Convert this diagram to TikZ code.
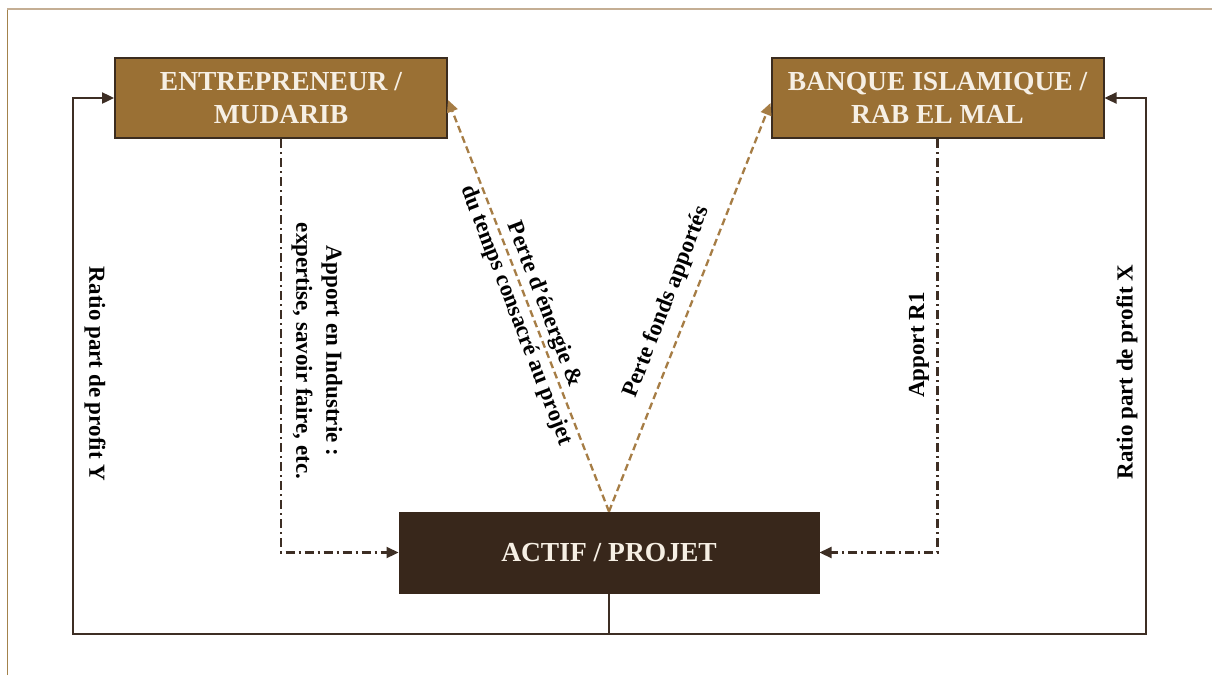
\documentclass[tikz,border=0pt]{standalone}
\usepackage{fontspec}
\setmainfont{Liberation Serif}
\usetikzlibrary{arrows.meta}
\definecolor{goldfill}{HTML}{9A7034}
\definecolor{boxline}{HTML}{3B2C1F}
\definecolor{darkfill}{HTML}{38271B}
\definecolor{linecol}{HTML}{3D2E24}
\definecolor{tanline}{HTML}{A67D45}
\definecolor{frametop}{HTML}{C4AE94}
\definecolor{frameleft}{HTML}{A3824C}
\definecolor{boxtext}{HTML}{F6EFE4}
\tikzset{
  goldbox/.style={draw=boxline, line width=2pt, fill=goldfill, text=boxtext,
    font=\fontsize{27.5}{33}\selectfont\bfseries, align=center,
    minimum width=332pt, minimum height=80pt, inner sep=0pt},
  darkbox/.style={draw=darkfill, line width=1pt, fill=darkfill, text=boxtext,
    font=\fontsize{27.5}{33}\selectfont\bfseries, align=center,
    minimum width=420pt, minimum height=81pt, inner sep=0pt},
  tip/.style={-{Triangle[length=12pt,width=11pt]}},
  solidline/.style={draw=linecol, line width=2.4pt, tip},
  dashdotline/.style={draw=linecol, line width=2.2pt, tip,
    dash pattern=on 9pt off 4pt on 2pt off 4pt},
  tanarrow/.style={draw=tanline, line width=2.3pt,
    -{Triangle[length=12pt,width=11pt,fill=tanline]},
    dash pattern=on 7pt off 4pt},
  lbl/.style={font=\fontsize{23}{30}\selectfont\bfseries, align=center, inner sep=0pt}
}
\begin{document}
\begin{tikzpicture}[x=1pt,y=-1pt]
\useasboundingbox (0,0) rectangle (1212,675);
\fill[white] (0,0) rectangle (1212,675);
% frame
\draw[frameleft, line width=1.5pt] (7.5,675) -- (7.5,9);
\draw[frametop, line width=1.5pt] (7,9) -- (1212,9);

% nodes
\node[goldbox] (E) at (281,98) {ENTREPRENEUR /\\MUDARIB};
\node[goldbox] (B) at (937.5,98) {BANQUE ISLAMIQUE /\\RAB EL MAL};
\node[darkbox] (A) at (609,552.5) {ACTIF / PROJET};

\coordinate (bl) at (73,634);
\coordinate (br) at (1146,634);
\coordinate (tl) at (73,98);
\coordinate (tr) at (1146,98);

% profit loops
\draw[solidline] (A.south) |- (bl) -- (tl) -- (E.west);
\draw[solidline] (A.south) |- (br) -- (tr) -- (B.east);

% contributions
\draw[dashdotline] (E.south) |- (A.west);
\draw[dashdotline] (B.south) |- (A.east);

% losses
\draw[tanarrow] (A.north) -- ([yshift=-2pt]E.east);
\draw[tanarrow] (A.north) -- ([yshift=-5pt]B.west);

% labels
\node[lbl, rotate=-90] (ly) at (95,374) {Ratio part de profit Y};
\node[lbl, rotate=-90] (lind) at (317,351) {Apport en Industrie :\\expertise, savoir faire, etc.};
\node[lbl, rotate=-69] (lperte) at (530,310) {Perte d’énergie \&\\du temps consacré au projet};
\node[lbl, rotate=69] (lfonds) at (667,302) {Perte fonds apportés};
\node[lbl, rotate=90] (lr1) at (919,345) {Apport R1};
\node[lbl, rotate=90] (lx) at (1127,372) {Ratio part de profit X};
\end{tikzpicture}
\end{document}
